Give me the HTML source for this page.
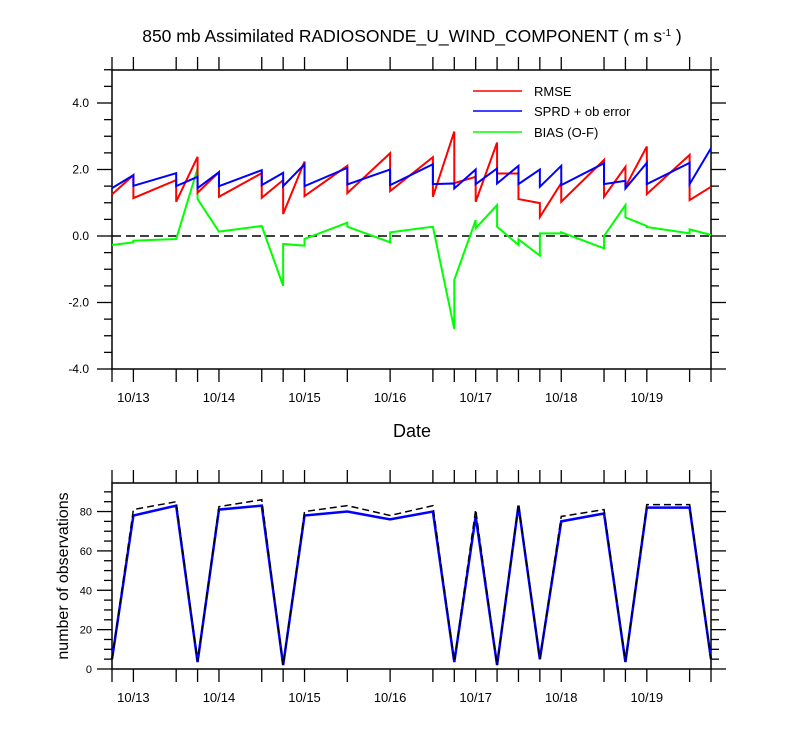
<!DOCTYPE html>
<html><head><meta charset="utf-8"><style>
body{margin:0;background:#fff;}
svg text{font-family:"Liberation Sans",sans-serif;fill:#000;}
</style></head><body>
<svg id="c" width="800" height="750" viewBox="0 0 800 750" xmlns="http://www.w3.org/2000/svg">
<text x="412" y="42" text-anchor="middle" font-size="17.5">850 mb Assimilated RADIOSONDE_U_WIND_COMPONENT ( m s<tspan dy="-6" font-size="10">-1</tspan><tspan dy="6"> )</tspan></text>
<g id="topPanel"></g>
<g id="botPanel"></g>
<text x="412" y="437" text-anchor="middle" font-size="18">Date</text>
<text transform="translate(68,576) rotate(-90)" text-anchor="middle" font-size="16">number of observations</text>
<g>
<line x1="473" x2="522" y1="91" y2="91" stroke="#f00" stroke-width="1.5"/>
<text x="534" y="96" font-size="13">RMSE</text>
<line x1="473" x2="522" y1="111" y2="111" stroke="#00f" stroke-width="1.5"/>
<text x="534" y="116" font-size="13">SPRD + ob error</text>
<line x1="473" x2="522" y1="132" y2="132" stroke="#0f0" stroke-width="1.5"/>
<text x="534" y="137" font-size="13">BIAS (O-F)</text>
</g>
</svg>
<script>
const times=[-0.25,0,0.5,0.75,1,1.5,1.75,2,2.5,3,3.5,3.75,4,4.25,4.5,4.75,5,5.5,5.75,6,6.5,6.75];
const dayLabels=["10/13","10/14","10/15","10/16","10/17","10/18","10/19"];
const dayTicks=[0,1,2,3,4,5,6];
const rmseIn=[1.25,1.83,1.68,2.38,1.92,1.89,1.68,2.24,2.11,2.49,2.37,3.14,1.78,2.81,1.88,0.99,1.59,2.29,2.08,2.69,2.44,1.48];
const rmseOut=[1.25,1.14,1.03,1.30,1.18,1.15,0.66,1.2,1.29,1.35,1.18,1.59,1.03,1.88,1.11,0.57,1.03,1.18,1.48,1.26,1.08,1.48];
const sprdIn=[1.44,1.83,1.89,1.78,1.92,1.98,1.90,2.16,2.05,2.0,2.16,1.58,2.0,2.03,2.11,2.0,2.11,2.19,1.66,2.2,2.2,2.64];
const sprdOut=[1.44,1.51,1.5,1.44,1.5,1.53,1.5,1.5,1.55,1.53,1.56,1.43,1.56,1.58,1.56,1.48,1.53,1.56,1.43,1.56,1.56,2.64];
const biasIn=[-0.27,-0.19,-0.09,2.03,0.13,0.30,-1.5,-0.29,0.40,-0.19,0.28,-2.8,0.48,0.93,-0.27,-0.59,0.08,-0.37,0.93,0.30,0.08,0.03];
const biasOut=[-0.27,-0.14,-0.09,1.11,0.13,0.30,-0.24,-0.09,0.28,0.11,0.28,-1.32,0.23,0.28,-0.1,0.08,0.11,0,0.56,0.27,0.20,0.03];
const obsUsed=[5,78,83,3.5,81,83,2,78,80,76,80,3.5,77.5,2,83,5,75,79,3.5,82,82,5];
const obsTotal=[5,81,85,4,82.5,86,2,80,83,78,83,4,81,2,84,5,77.5,81,4,83.5,83.5,5];
const yTopLabels=[-4,-2,0,2,4];
const yBotLabels=[0,20,40,60,80];

const NS="http://www.w3.org/2000/svg";
const X0=112,X1=711;
const xs=t=>X0+(t+0.25)/7*(X1-X0);
const yT=v=>236-v*33.25;
const yB=v=>669-v*(669-483)/94.5;
function mk(p,tag,a){const e=document.createElementNS(NS,tag);for(const k in a)e.setAttribute(k,a[k]);p.appendChild(e);return e;}
const topG=document.getElementById('topPanel'),botG=document.getElementById('botPanel');

function frame(g,yt,yb,nm){
  const r=mk(g,'rect',{x:X0,y:yt,width:X1-X0,height:yb-yt,fill:'none',stroke:'#000','stroke-width':1.5});
  
  
  times.forEach(t=>{
    const x=xs(t);
    const a=mk(g,'line',{x1:x,x2:x,y1:yb,y2:yb+13,stroke:'#000','stroke-width':1.3});
    
    
    const b=mk(g,'line',{x1:x,x2:x,y1:yt,y2:yt-13,stroke:'#000','stroke-width':1.3});
    
    
  });
  dayTicks.forEach((d,i)=>{
    const tx=mk(g,'text',{x:xs(d),y:yb+33,'text-anchor':'middle','font-size':13});
    tx.textContent=dayLabels[i];
    
    
  });
}
function yticks(g,lo,hi,step,major,ys){
  for(let v=lo;v<=hi+1e-9;v+=step){
    const y=ys(v);const isM=Math.abs(v/major-Math.round(v/major))<1e-6;const L=isM?15:8;
    [[X0,X0-L],[X1,X1+L]].forEach(([a,b])=>{
      const l=mk(g,'line',{x1:a,x2:b,y1:y,y2:y,stroke:'#000','stroke-width':1.3});
      
      
    });
  }
}
function path(g,ys,ain,aout,col,w,dash,nm){
  let d='';
  times.forEach((t,i)=>{const x=xs(t);d+=(i?'L':'M')+x+' '+ys(ain[i])+(aout?'L'+x+' '+ys(aout[i]):'');});
  const p=mk(g,'path',{d:d,fill:'none',stroke:col,'stroke-width':w,'stroke-linejoin':'miter'});
  if(dash)p.setAttribute('stroke-dasharray',dash);
  
  
}
frame(topG,70,369,'top');
yticks(topG,-4,5,0.5,2,yT);
yTopLabels.forEach(v=>{
  const t=mk(topG,'text',{x:89,y:yT(v)+4,'text-anchor':'end','font-size':12});
  t.textContent=v.toFixed(1);
  
  
});
const zl=mk(topG,'line',{x1:X0,x2:X1,y1:yT(0),y2:yT(0),stroke:'#000','stroke-width':1.5,'stroke-dasharray':'9 5'});


path(topG,yT,biasIn,biasOut,'#0f0',2,null,'bias-line');
path(topG,yT,rmseIn,rmseOut,'#f00',2,null,'rmse-line');
path(topG,yT,sprdIn,sprdOut,'#00f',2,null,'sprd-line');
frame(botG,483,669,'bottom');
yticks(botG,0,90,5,20,yB);
yBotLabels.forEach(v=>{
  const t=mk(botG,'text',{x:92,y:yB(v)+4,'text-anchor':'end','font-size':11});
  t.textContent=v;
  
  
});
path(botG,yB,obsUsed,null,'#00f',2.5,null,'obs-used-line');
path(botG,yB,obsTotal,null,'#000',1.5,'7 4','obs-total-line');
</script>
</body></html>
